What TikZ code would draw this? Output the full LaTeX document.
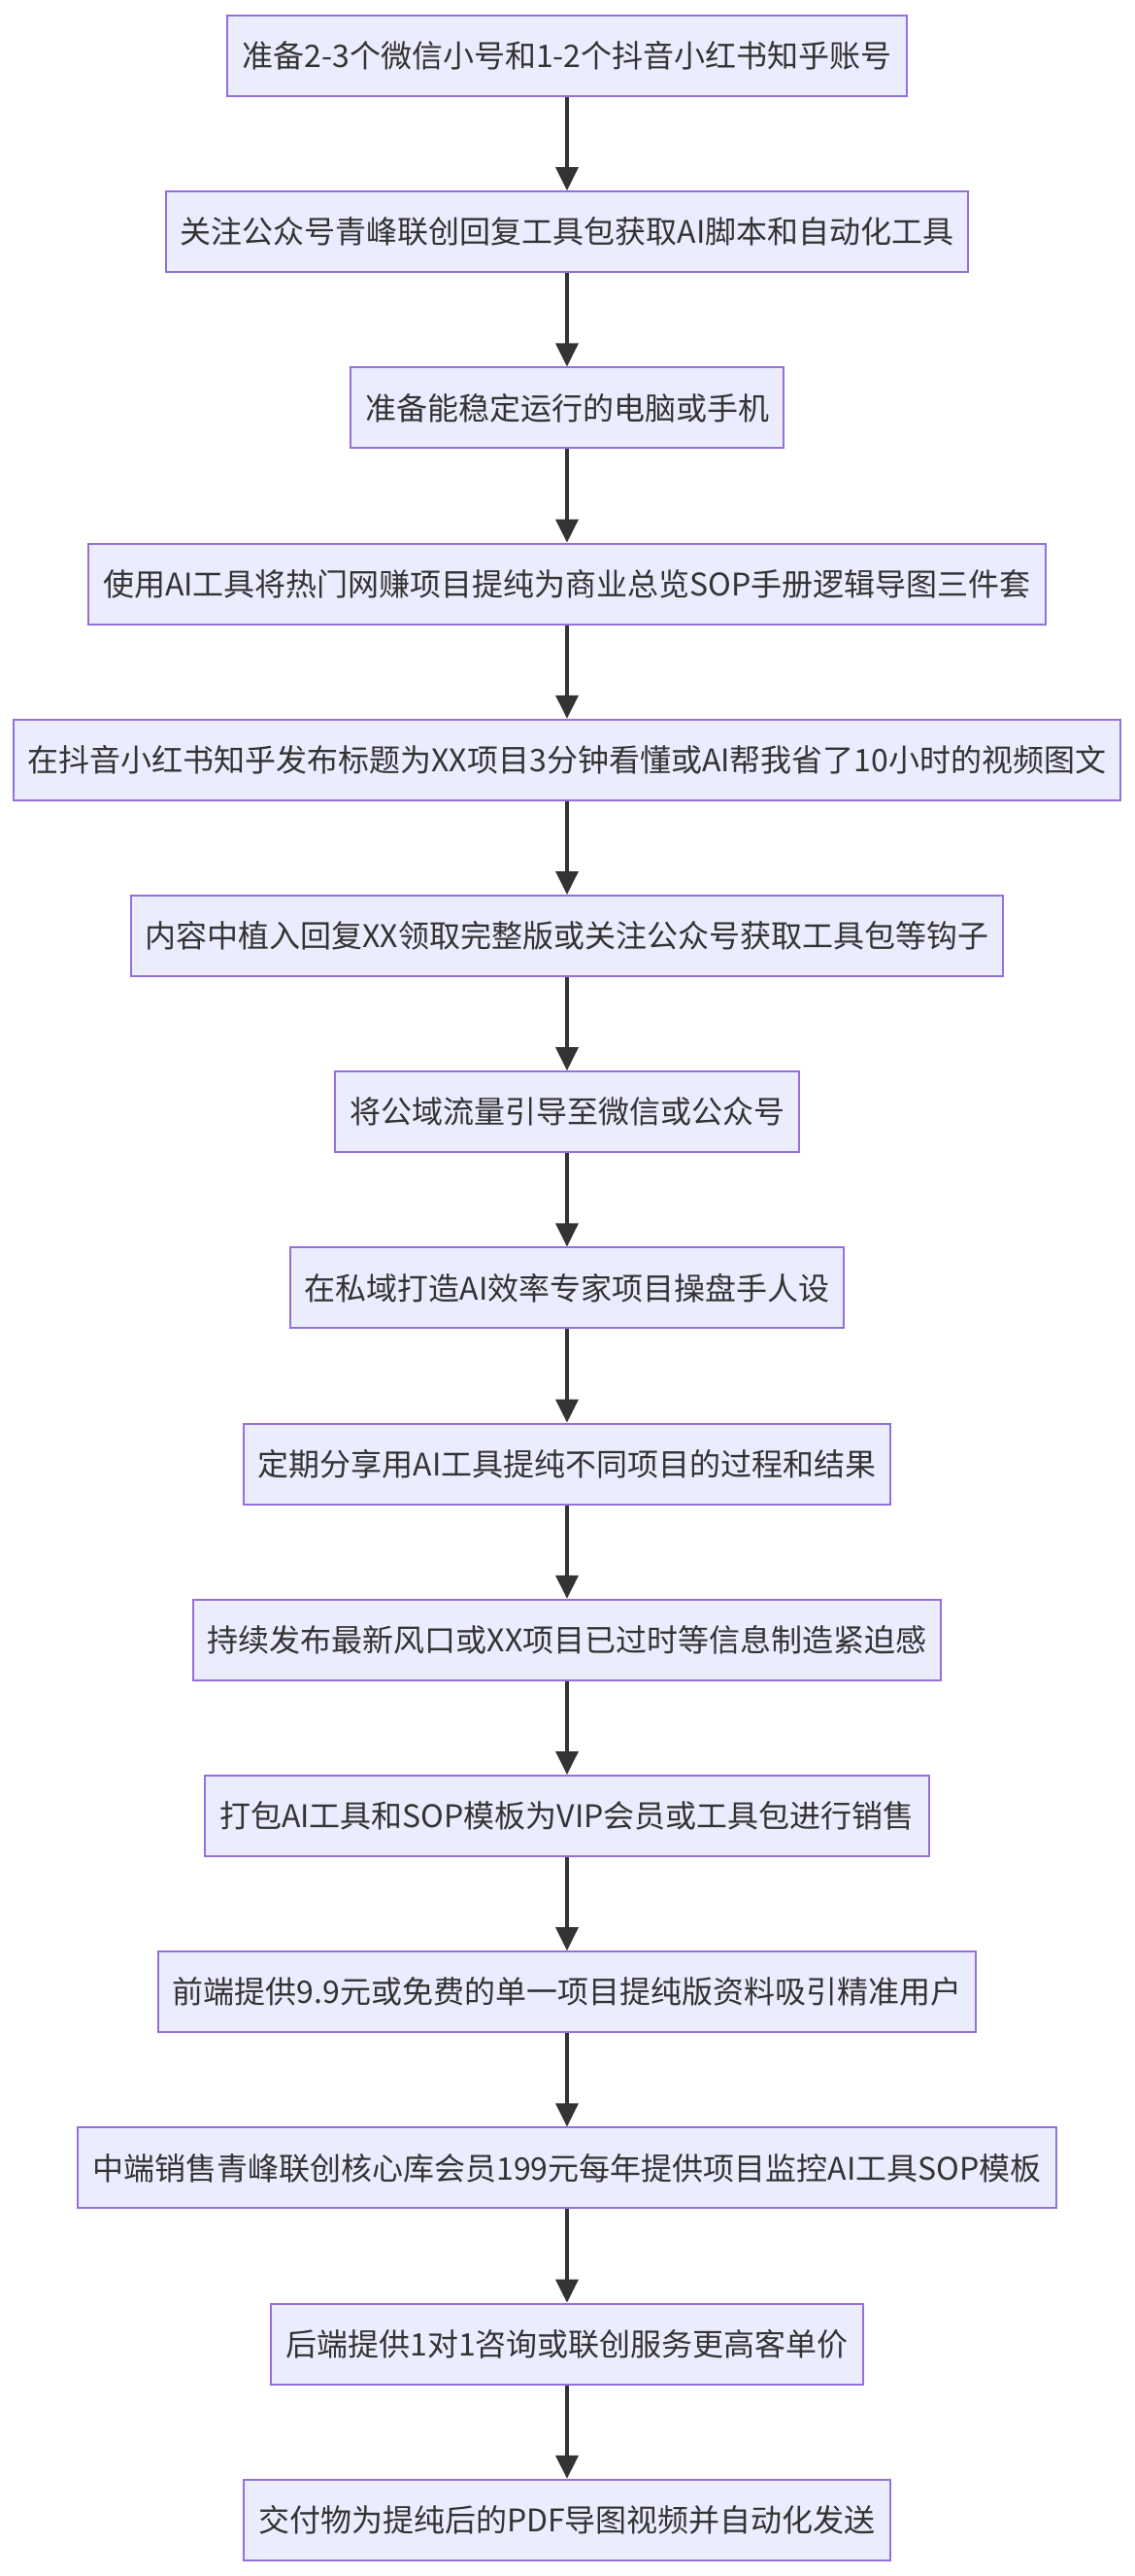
\documentclass[tikz,border=0pt]{standalone}
\usepackage{fontspec}
\setmainfont{Noto Sans CJK SC}
\usetikzlibrary{positioning,arrows.meta}
\definecolor{boxfill}{HTML}{ECECFF}
\definecolor{boxline}{HTML}{9370DB}
\definecolor{flowline}{HTML}{333333}

\begin{document}
\begin{tikzpicture}[
    every node/.style={font=\fontsize{16pt}{19pt}\selectfont, text=flowline},
    stepbox/.style={draw=boxline, fill=boxfill, line width=1pt,
      minimum height=41.5pt, inner xsep=7.5pt},
    flow/.style={draw=flowline, line width=1.8pt,
      -{Triangle[length=12pt,width=11.5pt]}},
    node distance=48.1pt
  ]
  %----- 邊界 -----
  \useasboundingbox (0,0) rectangle (584pt,-1326pt);

  %----- 步驟 -----
  \node[stepbox, anchor=north] (s1) at (292pt,-7.5pt) {准备2-3个微信小号和1-2个抖音小红书知乎账号};
  \node[stepbox, below=of s1]  (s2)  {关注公众号青峰联创回复工具包获取AI脚本和自动化工具};
  \node[stepbox, below=of s2]  (s3)  {准备能稳定运行的电脑或手机};
  \node[stepbox, below=of s3]  (s4)  {使用AI工具将热门网赚项目提纯为商业总览SOP手册逻辑导图三件套};
  \node[stepbox, below=of s4]  (s5)  {在抖音小红书知乎发布标题为XX项目3分钟看懂或AI帮我省了10小时的视频图文};
  \node[stepbox, below=of s5]  (s6)  {内容中植入回复XX领取完整版或关注公众号获取工具包等钩子};
  \node[stepbox, below=of s6]  (s7)  {将公域流量引导至微信或公众号};
  \node[stepbox, below=of s7]  (s8)  {在私域打造AI效率专家项目操盘手人设};
  \node[stepbox, below=of s8]  (s9)  {定期分享用AI工具提纯不同项目的过程和结果};
  \node[stepbox, below=of s9]  (s10) {持续发布最新风口或XX项目已过时等信息制造紧迫感};
  \node[stepbox, below=of s10] (s11) {打包AI工具和SOP模板为VIP会员或工具包进行销售};
  \node[stepbox, below=of s11] (s12) {前端提供9.9元或免费的单一项目提纯版资料吸引精准用户};
  \node[stepbox, below=of s12] (s13) {中端销售青峰联创核心库会员199元每年提供项目监控AI工具SOP模板};
  \node[stepbox, below=of s13] (s14) {后端提供1对1咨询或联创服务更高客单价};
  \node[stepbox, below=of s14] (s15) {交付物为提纯后的PDF导图视频并自动化发送};

  %----- 箭頭 -----
  \foreach \i [evaluate=\i as \j using int(\i+1)] in {1,...,14}
    \draw[flow] (s\i) -- (s\j);
\end{tikzpicture}
\end{document}
